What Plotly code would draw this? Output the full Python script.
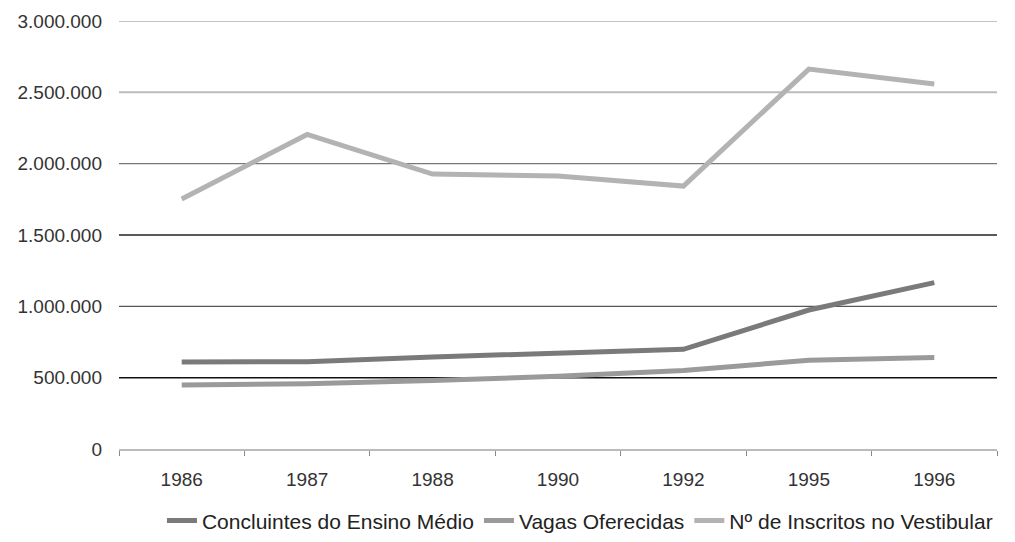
import plotly.graph_objects as go

years = ["1986", "1987", "1988", "1990", "1992", "1995", "1996"]
concluintes = [610000, 612000, 645000, 675000, 699000, 974000, 1166000]
vagas = [449000, 458000, 480000, 510000, 550000, 622000, 641000]
inscritos = [1752000, 2205000, 1927000, 1913000, 1843000, 2663000, 2558000]

y_ticks = [0, 500000, 1000000, 1500000, 2000000, 2500000, 3000000]
y_tick_text = ["0", "500.000", "1.000.000", "1.500.000", "2.000.000", "2.500.000", "3.000.000"]
grid_colors = ["#bbbbbb", "#111111", "#555555", "#222222", "#777777", "#bbbbbb", "#888888"]
grid_widths = [2, 1.5, 1.2, 1.5, 1.2, 2, 1.2]

series = [
    ("Concluintes do Ensino Médio", concluintes, "#7a7a7a"),
    ("Vagas Oferecidas", vagas, "#9a9a9a"),
    ("Nº de Inscritos no Vestibular", inscritos, "#b3b3b3"),
]

fig = go.Figure()
for name, vals, color in series:
    fig.add_trace(go.Scatter(x=years, y=vals, name=name, mode="lines",
                             line=dict(color=color, width=5)))

for v, c, w in zip(y_ticks, grid_colors, grid_widths):
    if v == 0:
        continue
    fig.add_shape(type="line", xref="paper", yref="y", x0=0, x1=1, y0=v, y1=v,
                  line=dict(color=c, width=w), layer="below")

fig.update_layout(
    width=1015, height=542,
    margin=dict(l=119, r=18, t=21, b=93, autoexpand=False),
    paper_bgcolor="white", plot_bgcolor="white",
    font=dict(family="Liberation Sans, Arial, sans-serif", size=19, color="#333333"),
    showlegend=True,
    legend=dict(orientation="h", x=0.525, xanchor="center", y=-0.168, yanchor="middle",
                font=dict(size=21, color="#222222"), itemwidth=30, tracegroupgap=0),
    xaxis=dict(type="category", range=[-0.5, 6.5], tickson="boundaries", ticks="outside",
               ticklen=5, tickcolor="#888888", showline=True, linecolor="#bbbbbb",
               linewidth=2, showgrid=False, ticklabelstandoff=12, zeroline=False,
               automargin=False),
    yaxis=dict(range=[0, 3000000], tickvals=y_ticks, ticktext=y_tick_text,
               showgrid=False, zeroline=False, ticks="", ticklabelstandoff=16,
               automargin=False),
)

fig.write_html("out.html")
